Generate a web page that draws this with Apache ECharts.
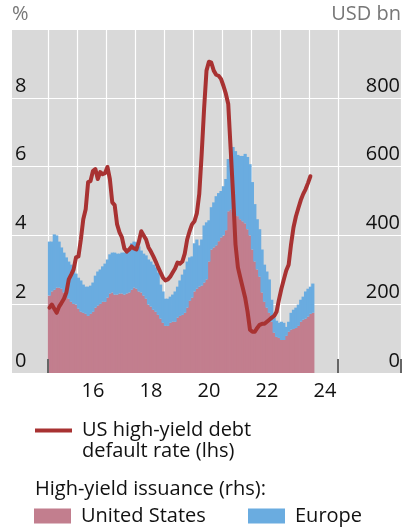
<!DOCTYPE html>
<html>
<head>
<meta charset="utf-8">
<script src="https://cdn.jsdelivr.net/npm/echarts@6/dist/echarts.min.js"></script>
</head>
<body style="margin:0">
<div id="main" style="width:404px;height:532px"></div>
<script>
// monthly data, Jan 2015 onwards (issuance in USD bn, default rate in %)
var usIssuance = [225,237,242,248,248,245,234,228,216,207,201,199,
  187,178,175,172,166,172,178,190,196,201,207,207,
  219,231,234,228,228,231,231,228,231,234,242,248,
  245,237,234,225,216,199,193,184,178,169,158,146,
  137,137,146,149,149,161,166,169,175,190,210,219,
  237,245,251,254,263,272,324,359,365,371,383,394,
  400,415,470,476,467,458,456,447,441,435,418,400,
  359,324,301,280,234,207,190,175,149,117,105,102,
  96,96,108,120,126,128,131,137,149,155,158,164,
  172,175];
var europeIssuance = [157,145,161,152,134,120,116,108,108,108,100,90,
  90,91,82,79,85,82,85,93,99,100,103,111,
  111,114,116,122,119,116,119,122,122,125,135,134,
  135,131,122,122,126,131,131,131,129,123,99,91,
  79,79,76,79,88,90,103,117,126,134,126,120,
  140,143,120,134,166,166,120,123,131,143,140,135,
  143,149,152,166,190,187,178,184,190,202,210,207,
  196,167,146,138,125,108,105,97,64,44,47,44,
  53,50,26,29,49,56,59,62,64,67,79,81,
  79,85];
var defaultRate = [1.90,1.99,1.87,1.75,1.93,2.04,2.16,2.34,2.72,2.86,3.01,3.36,
  3.39,3.88,4.47,4.76,5.55,5.58,5.87,5.93,5.64,5.84,5.78,5.81,
  5.99,5.64,4.96,4.88,4.32,4.09,3.94,3.62,3.53,3.59,3.68,3.62,
  3.59,3.82,4.12,4.00,3.88,3.65,3.53,3.39,3.24,3.07,2.92,2.77,
  2.69,2.72,2.80,2.92,3.04,3.21,3.18,3.24,3.47,3.88,4.12,4.32,
  4.41,4.64,5.20,6.36,7.68,8.79,9.05,9.02,8.79,8.67,8.64,8.55,
  8.35,8.12,7.82,6.51,5.20,3.74,3.07,2.77,2.48,2.19,1.78,1.26,
  1.20,1.20,1.31,1.40,1.43,1.43,1.49,1.55,1.61,1.66,1.78,2.13,
  2.45,2.72,2.98,3.15,3.74,4.23,4.55,4.79,5.02,5.20,5.34,5.52,
  5.72];
var yearLabels = ['16', '18', '20', '22', '24'];

var lineName = 'US high-yield debt default rate (lhs)';
var usColor = '#c27e8e', euColor = '#6aace0', lineColor = '#a83232';

// axis runs Oct 2013 .. Feb 2027, data start 15 months in
var lead = 15, nMonths = 161;
var months = [];
for (var i = 0; i < nMonths; i++) {
  var t = 2013 * 12 + 9 + i;
  var mm = t % 12 + 1;
  months.push(Math.floor(t / 12) + '-' + (mm < 10 ? '0' : '') + mm);
}
function pad(arr) {
  var out = [];
  for (var i = 0; i < nMonths; i++) {
    var j = i - lead;
    out.push(j >= 0 && j < arr.length ? arr[j] : '-');
  }
  return out;
}

var font = 'Open Sans', fs = 20;
var chart = echarts.init(document.getElementById('main'));
chart.setOption({
  animation: false,
  textStyle: { fontFamily: font },
  grid: { left: 12, right: 0, top: 29, bottom: 159, show: true,
    backgroundColor: '#d9d9d9', borderWidth: 0 },
  title: {
    text: 'High-yield issuance (rhs):', left: 35, top: 478, padding: 0,
    textStyle: { fontSize: fs, fontWeight: 'normal', color: '#111', lineHeight: 22, fontFamily: font }
  },
  legend: [{
    left: 35, top: 399, padding: 0, icon: 'rect', itemWidth: 37, itemHeight: 4,
    selectedMode: false, data: [lineName],
    // empty first line keeps the icon level with the first text line
    formatter: function () { return '\nUS high-yield debt\ndefault rate (lhs)'; },
    textStyle: { fontSize: fs, lineHeight: 21, color: '#111', padding: [0, 0, 0, 5] }
  }, {
    left: 34, top: 505, padding: 0, icon: 'rect', itemWidth: 37, itemHeight: 15,
    selectedMode: false, data: ['United States'],
    textStyle: { fontSize: fs, lineHeight: 22, color: '#111', padding: [0, 0, 0, 5] }
  }, {
    left: 248, top: 505, padding: 0, icon: 'rect', itemWidth: 37, itemHeight: 15,
    selectedMode: false, data: ['Europe'],
    textStyle: { fontSize: fs, lineHeight: 22, color: '#111', padding: [0, 0, 0, 5] }
  }],
  xAxis: [{
    type: 'category', data: months, position: 'bottom',
    axisLine: { show: false }, axisTick: { show: false },
    axisLabel: {
      fontSize: fs, color: '#111', margin: 8,
      interval: function (idx, v) { return v.slice(5) === '07' && yearLabels.indexOf(v.slice(2, 4)) >= 0; },
      formatter: function (v) { return v.slice(2, 4); }
    },
    splitLine: {
      show: true, lineStyle: { color: '#fff', width: 1.2 },
      interval: function (idx, v) {
        var y = +v.slice(0, 4);
        return v.slice(5) === '01' && y >= 2015 && y <= 2025;
      }
    }
  }, {
    type: 'category', data: months, position: 'bottom', z: 10,
    axisLine: { show: false }, axisLabel: { show: false }, splitLine: { show: false },
    axisTick: {
      show: true, inside: true, length: 14, lineStyle: { color: '#666', width: 2 },
      interval: function (idx, v) { return v === '2015-01' || v === '2025-01'; }
    }
  }],
  yAxis: [{
    type: 'value', min: 0, max: 10, interval: 2, position: 'left',
    name: '%', nameLocation: 'end', nameGap: 5,
    nameTextStyle: { align: 'left', color: '#777', fontSize: fs },
    axisLine: { show: false }, axisTick: { show: false },
    axisLabel: { inside: true, margin: 3, verticalAlign: 'bottom', padding: [0, 0, 2, 0],
      fontSize: fs, color: '#111',
      formatter: function (v) { return v === 10 ? '' : v; } },
    splitLine: { lineStyle: { color: '#fff', width: 1.2 } }
  }, {
    type: 'value', min: 0, max: 1000, interval: 200, position: 'right',
    name: 'USD bn', nameLocation: 'end', nameGap: 5,
    nameTextStyle: { align: 'right', color: '#777', fontSize: fs },
    axisLine: { show: false }, axisTick: { show: false },
    axisLabel: { inside: true, margin: 1, verticalAlign: 'bottom', padding: [0, 0, 2, 0],
      fontSize: fs, color: '#111',
      formatter: function (v) { return v === 1000 ? '' : v; } },
    splitLine: { show: false }
  }],
  series: [{
    // bars a bit wider than the month band so neighbours overlap and leave no seams
    name: 'United States', type: 'bar', stack: 'hy', yAxisIndex: 1,
    barWidth: 3.2, itemStyle: { color: usColor },
    data: pad(usIssuance)
  }, {
    name: 'Europe', type: 'bar', stack: 'hy', yAxisIndex: 1,
    barWidth: 3.2, itemStyle: { color: euColor },
    data: pad(europeIssuance)
  }, {
    name: lineName, type: 'line', yAxisIndex: 0, showSymbol: false, z: 4,
    itemStyle: { color: lineColor },
    lineStyle: { color: lineColor, width: 4, join: 'round', cap: 'round' },
    data: pad(defaultRate)
  }]
});
</script>
</body>
</html>
